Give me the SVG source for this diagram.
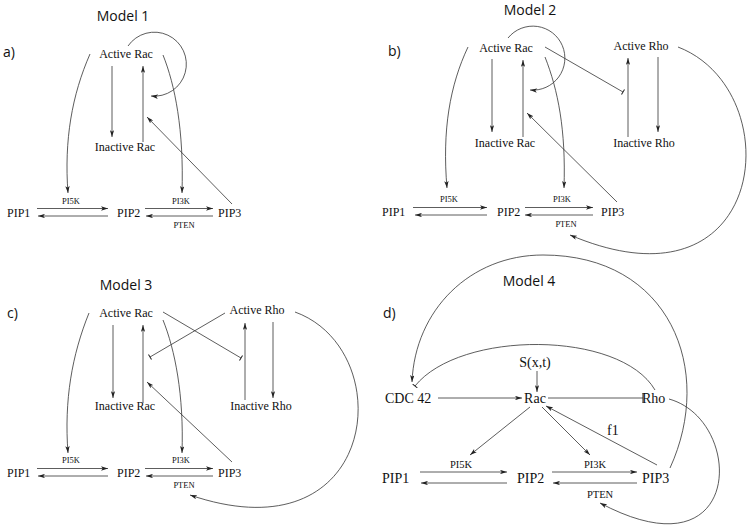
<svg xmlns="http://www.w3.org/2000/svg" width="747" height="532" viewBox="0 0 747 532">
<defs>
<style>
.n{font-family:"Liberation Serif","Times New Roman",serif;font-size:12px;fill:#111}
.m{font-family:"Liberation Serif","Times New Roman",serif;font-size:14px;fill:#111}
.s{font-family:"Liberation Serif","Times New Roman",serif;font-size:8.5px;fill:#111}
.s2{font-family:"Liberation Serif","Times New Roman",serif;font-size:10.5px;fill:#111}
.t{font-family:"Open Sans","Liberation Sans",sans-serif;font-size:14px;fill:#111}
.c{text-anchor:middle}
.e path{fill:none;stroke:#333;stroke-width:0.8}
.a{marker-end:url(#ah)}
.b{marker-end:url(#tb)}
.B{marker-end:url(#tB)}
</style>
<marker id="ah" viewBox="0 0 8 5" refX="8" refY="2.5" markerWidth="7" markerHeight="4.4" orient="auto" markerUnits="userSpaceOnUse"><path d="M0,0 L8,2.5 L0,5 L2,2.5 Z" fill="#222"/></marker>
<marker id="tb" viewBox="0 0 2 6" refX="1" refY="3" markerWidth="2" markerHeight="6" orient="auto" markerUnits="userSpaceOnUse"><path d="M1,0 L1,6" stroke="#222" stroke-width="1"/></marker>
<marker id="tB" viewBox="0 0 2 10" refX="1" refY="5" markerWidth="2" markerHeight="10" orient="auto" markerUnits="userSpaceOnUse"><path d="M1,0 L1,10" stroke="#222" stroke-width="1"/></marker>
</defs>
<rect width="747" height="532" fill="#fff"/>

<!-- Model 1 -->
<g id="model1">
<text class="t c" x="123" y="21">Model 1</text>
<text class="t" x="3" y="57">a)</text>
<g id="m1-activeRac"><text class="n c" x="126" y="58">Active Rac</text></g>
<g id="m1-inactiveRac"><text class="n c" x="125" y="151">Inactive Rac</text></g>
<g id="m1-pip1"><text class="n" x="7" y="216.5">PIP1</text></g>
<g id="m1-pip2"><text class="n" x="117" y="216.5">PIP2</text></g>
<g id="m1-pip3"><text class="n" x="218" y="216.5">PIP3</text></g>
<text class="s c" x="71" y="204">PI5K</text>
<text class="s c" x="181" y="204">PI3K</text>
<text class="s c" x="184" y="228">PTEN</text>
<g id="m1-edges" class="e">
<path class="a" d="M112,66 L112,137"/>
<path class="a" d="M143,142 L143,66"/>
<path class="a" d="M128,46 A32,32 0 1 1 151,96"/>
<path class="a" d="M232,204 L147,117"/>
<path class="a" d="M90,54 C72,95 64,140 68,193"/>
<path class="a" d="M163,55 C175,85 184,130 182,193"/>
<path class="a" d="M37,208.5 L108,208.5"/>
<path class="a" d="M108,216 L38,216"/>
<path class="a" d="M145,208.5 L213,208.5"/>
<path class="a" d="M213,216 L146,216"/>
</g>
</g>

<!-- Model 2 -->
<g id="model2">
<text class="t c" x="530" y="15">Model 2</text>
<text class="t" x="388" y="56">b)</text>
<g id="m2-activeRac"><text class="n c" x="506" y="52">Active Rac</text></g>
<g id="m2-activeRho"><text class="n c" x="641" y="50">Active Rho</text></g>
<g id="m2-inactiveRac"><text class="n c" x="505" y="147">Inactive Rac</text></g>
<g id="m2-inactiveRho"><text class="n c" x="644" y="147">Inactive Rho</text></g>
<g id="m2-pip1"><text class="n" x="382" y="215.5">PIP1</text></g>
<g id="m2-pip2"><text class="n" x="497" y="215.5">PIP2</text></g>
<g id="m2-pip3"><text class="n" x="601" y="215.5">PIP3</text></g>
<text class="s c" x="449" y="202">PI5K</text>
<text class="s c" x="562" y="202">PI3K</text>
<text class="s c" x="566" y="227">PTEN</text>
<g id="m2-edges" class="e">
<path class="a" d="M492,59 L492,132"/>
<path class="a" d="M523,137 L523,60"/>
<path class="a" d="M628,137 L628,58"/>
<path class="a" d="M658,57 L658,132"/>
<path class="a" d="M508,38 A32,32 0 1 1 530,90"/>
<path class="b" d="M545,47 L623,92"/>
<path class="a" d="M617,202 L527,113"/>
<path class="a" d="M468,47 C450,85 442,130 447,188"/>
<path class="a" d="M545,57 C558,90 566,130 564,188"/>
<path class="a" d="M678,47 C790,90 770,320 570,235"/>
<path class="a" d="M413,207.5 L487,207.5"/>
<path class="a" d="M487,215 L415,215"/>
<path class="a" d="M525,207.5 L593,207.5"/>
<path class="a" d="M593,215 L525,215"/>
</g>
</g>

<!-- Model 3 -->
<g id="model3">
<text class="t c" x="126" y="290">Model 3</text>
<text class="t" x="7" y="318">c)</text>
<g id="m3-activeRac"><text class="n c" x="126" y="317">Active Rac</text></g>
<g id="m3-activeRho"><text class="n c" x="257" y="314">Active Rho</text></g>
<g id="m3-inactiveRac"><text class="n c" x="125" y="410">Inactive Rac</text></g>
<g id="m3-inactiveRho"><text class="n c" x="261" y="410">Inactive Rho</text></g>
<g id="m3-pip1"><text class="n" x="7" y="476.5">PIP1</text></g>
<g id="m3-pip2"><text class="n" x="117" y="476.5">PIP2</text></g>
<g id="m3-pip3"><text class="n" x="218" y="476.5">PIP3</text></g>
<text class="s c" x="71" y="463">PI5K</text>
<text class="s c" x="181" y="463">PI3K</text>
<text class="s c" x="184" y="488">PTEN</text>
<g id="m3-edges" class="e">
<path class="a" d="M113,325 L113,398"/>
<path class="a" d="M143,403 L143,325"/>
<path class="a" d="M245,400 L245,323"/>
<path class="a" d="M273,322 L273,398"/>
<path class="b" d="M163,312 L241,358"/>
<path class="b" d="M225,313 L150,357"/>
<path class="a" d="M232,462 L147,382"/>
<path class="a" d="M89,313 C72,355 64,400 68,453"/>
<path class="a" d="M163,320 C175,350 184,395 182,453"/>
<path class="a" d="M295,312 C400,350 380,560 190,495"/>
<path class="a" d="M37,468.5 L108,468.5"/>
<path class="a" d="M108,476 L38,476"/>
<path class="a" d="M145,468.5 L213,468.5"/>
<path class="a" d="M213,476 L146,476"/>
</g>
</g>

<!-- Model 4 -->
<g id="model4">
<text class="t c" x="529" y="286">Model 4</text>
<text class="t" x="383" y="318">d)</text>
<g id="m4-cdc42"><text class="m" x="385" y="403">CDC 42</text></g>
<g id="m4-rac"><text class="m c" x="535" y="403">Rac</text></g>
<g id="m4-rho"><text class="m" x="642" y="403">Rho</text></g>
<g id="m4-s"><text class="m c" x="535" y="367">S(x,t)</text></g>
<g id="m4-pip1"><text class="m" x="382" y="483">PIP1</text></g>
<g id="m4-pip2"><text class="m" x="517" y="483">PIP2</text></g>
<g id="m4-pip3"><text class="m" x="642" y="483">PIP3</text></g>
<text class="m" x="607" y="435">f1</text>
<text class="s2 c" x="461" y="468">PI5K</text>
<text class="s2 c" x="595" y="468">PI3K</text>
<text class="s2 c" x="600" y="498">PTEN</text>
<g id="m4-edges" class="e">
<path class="a" d="M537,371 L537,392"/>
<path class="a" d="M438,398 L522,398"/>
<path class="B" d="M548,398 L643,398"/>
<path class="b" d="M655,390 C620,330 460,330 415,386"/>
<path class="a" d="M670,468 C715,370 670,255 543,255 C470,255 415,310 412,382"/>
<path class="a" d="M530,407 L470,455"/>
<path class="a" d="M542,407 L590,455"/>
<path class="a" d="M657,465 L546,406"/>
<path class="a" d="M669,399 C745,420 745,580 600,503"/>
<path class="a" d="M420,472 L507,472"/>
<path class="a" d="M507,483 L421,483"/>
<path class="a" d="M552,472 L637,472"/>
<path class="a" d="M637,483 L553,483"/>
</g>
</g>
</svg>
